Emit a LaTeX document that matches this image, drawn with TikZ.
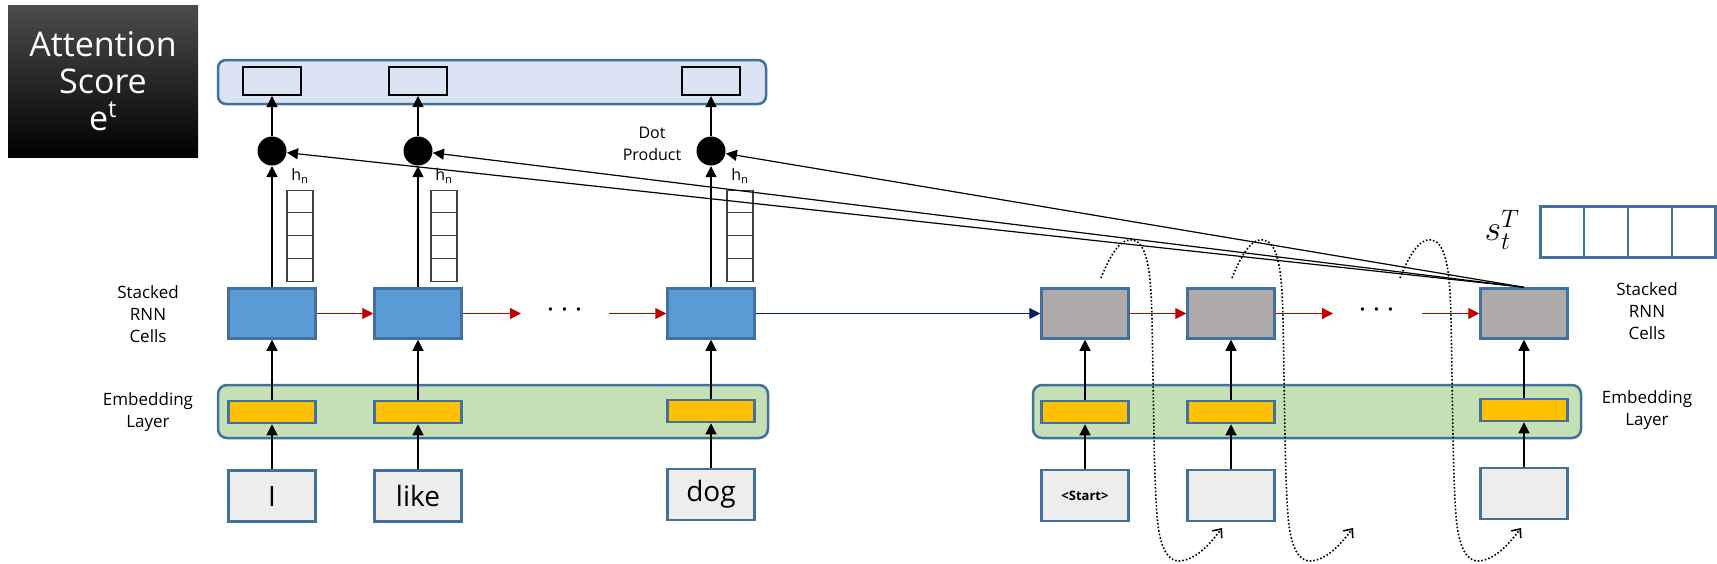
\RequirePackage{fix-cm}
\documentclass[tikz,border=0pt]{standalone}
\usepackage{fontspec}
\setmainfont{Open Sans}
\usetikzlibrary{arrows.meta,shapes}
\definecolor{cell_blue}{RGB}{91,155,213}
\definecolor{edge_blue}{RGB}{65,113,156}
\definecolor{cell_gray}{RGB}{174,170,170}
\definecolor{emb_yellow}{RGB}{255,192,0}
\definecolor{emb_green}{RGB}{197,224,180}
\definecolor{score_blue}{RGB}{218,227,243}
\definecolor{input_gray}{RGB}{237,237,237}
\definecolor{vec_gray}{RGB}{64,64,64}
\definecolor{edge_red}{RGB}{192,0,0}
\definecolor{edge_navy}{RGB}{0,32,96}

\begin{document}
\begin{tikzpicture}[x=1pt,y=-1pt,line width=1.2pt,>={Triangle[length=11pt,width=11pt]}]
    \tikzstyle{label}=[text=black,align=center,font=\fontsize{17}{22}\selectfont]
    \tikzstyle{title}=[rectangle,minimum width=190,minimum height=152,top color=black!70,middle color=black,bottom color=black,text=white,align=center,font=\fontsize{34}{37}\selectfont]
    \tikzstyle{box}=[rectangle,draw=edge_blue,line width=2.5pt,inner sep=0pt,minimum width=87]
    \tikzstyle{enc}=[style=box,fill=cell_blue,minimum height=50]
    \tikzstyle{dec}=[style=box,fill=cell_gray,minimum height=50]
    \tikzstyle{emb}=[style=box,fill=emb_yellow,minimum height=22]
    \tikzstyle{word}=[style=box,fill=input_gray,minimum height=51,font=\fontsize{28}{30}\selectfont]
    \tikzstyle{layer}=[rectangle,draw=edge_blue,line width=2.5pt,rounded corners=9pt,minimum height=53]
    \tikzstyle{score}=[rectangle,draw=black,line width=2pt,minimum width=58,minimum height=28,inner sep=0pt]
    \tikzstyle{product}=[circle,fill=black,minimum size=29,inner sep=0pt]
    \tikzstyle{hvec}=[rectangle,draw=vec_gray,line width=1.2pt,minimum width=26,minimum height=91,inner sep=0pt]
    \tikzstyle{up}=[->,black,line width=1.2pt]
    \tikzstyle{rec}=[->,edge_red,line width=1.2pt]
    \tikzstyle{feed}=[dotted,line width=1.6pt,-{Straight Barb[length=7pt,width=12pt]}]

    \useasboundingbox (0,0) rectangle (1717,563);

    \node[title] (T) at (103,81) {Attention\\Score\\e\textsuperscript{t}};

    % attention score bar
    \node[layer,fill=score_blue,minimum width=548,minimum height=44,rounded corners=8pt] (bar) at (492,82) {};
    \node[score] (a1) at (272,81) {};
    \node[score] (a2) at (418,81) {};
    \node[score] (a3) at (711,81) {};

    % embedding bars
    \node[layer,fill=emb_green,minimum width=550] (L1) at (493,411.5) {};
    \node[layer,fill=emb_green,minimum width=548] (L2) at (1307,411.5) {};

    % encoder
    \node[enc] (c1) at (272,313.5) {};
    \node[enc] (c2) at (418,313.5) {};
    \node[enc] (c3) at (711,313.5) {};
    \node[emb] (e1) at (272,412) {};
    \node[emb] (e2) at (418,412) {};
    \node[emb] (e3) at (711,411) {};
    \node[word] (w1) at (272,496) {I};
    \node[word] (w2) at (418,496) {like};
    \node[word] (w3) at (711,494.5) {dog};

    % decoder
    \node[dec] (d1) at (1085,313.5) {};
    \node[dec] (d2) at (1231,313.5) {};
    \node[dec] (d3) at (1524,313.5) {};
    \node[emb] (f1) at (1085,412) {};
    \node[emb] (f2) at (1231,412) {};
    \node[emb] (f3) at (1524,410) {};
    \node[word,font=\fontsize{13}{15}\selectfont\bfseries] (v1) at (1085,495.5) {<Start>};
    \node[word] (v2) at (1231,495.5) {};
    \node[word] (v3) at (1524,493.5) {};

    % dot products and hidden states
    \node[product] (p1) at (272,151) {};
    \node[product] (p2) at (418,151) {};
    \node[product] (p3) at (711,151) {};
    \foreach \x/\n in {300/1,444/2,740/3} {
        \node[hvec] (h\n) at (\x,236) {};
        \foreach \k in {1,2,3}
            \draw[vec_gray] ([yshift=-\k*22.75pt]h\n.north west) -- ([yshift=-\k*22.75pt]h\n.north east);
        \node[font=\fontsize{16}{18}\selectfont] at (\x,176) {h\textsubscript{n}};
    }
    \node[label,font=\fontsize{16}{22}\selectfont] (dp) at (652,144) {Dot\\Product};

    % query vector
    \node[font=\fontsize{36}{36}\selectfont] (sl) at (1502,230) {$s_t^T$};
    \node[box,minimum width=175,minimum height=51,draw=edge_blue] (s) at (1628,232) {};
    \foreach \x in {1584,1628,1672}
        \draw[edge_blue,line width=2.5pt] (\x,206.5) -- (\x,257.5);

    % side labels
    \node[label] at (148,314) {Stacked\\RNN\\Cells};
    \node[label] at (148,412) {Embedding\\Layer};
    \node[label] at (1647,311) {Stacked\\RNN\\Cells};
    \node[label] at (1647,410) {Embedding\\Layer};

    % recurrence
    \coordinate (r1) at (521,313.5);
    \coordinate (r2) at (609,313.5);
    \coordinate (r3) at (1333,313.5);
    \coordinate (r4) at (1422,313.5);
    \node[font=\fontsize{32}{32}\selectfont] at (565,310) {$\cdots$};
    \node[font=\fontsize{32}{32}\selectfont] at (1377,310) {$\cdots$};

    \path
     (w1) edge[up] (e1)  (e1) edge[up] (c1)  (c1) edge[up] (p1)  (p1) edge[up] (a1)
     (w2) edge[up] (e2)  (e2) edge[up] (c2)  (c2) edge[up] (p2)  (p2) edge[up] (a2)
     (w3) edge[up] (e3)  (e3) edge[up] (c3)  (c3) edge[up] (p3)  (p3) edge[up] (a3)
     (v1) edge[up] (f1)  (f1) edge[up] (d1)
     (v2) edge[up] (f2)  (f2) edge[up] (d2)
     (v3) edge[up] (f3)  (f3) edge[up] (d3)
     (c1) edge[rec] (c2)
     (c2) edge[rec] (r1)
     (r2) edge[rec] (c3)
     (d1) edge[rec] (d2)
     (d2) edge[rec] (r3)
     (r4) edge[rec] (d3)
     (c3) edge[->,edge_navy] (d1)
     (d3.north) edge[up] (p1)
     (d3.north) edge[up] (p2)
     (d3.north) edge[up] (p3);

    % outputs fed back as next inputs
    \foreach \x in {1101,1232,1400}
        \draw[feed] (\x,278) .. controls (\x+12,248) and (\x+22,238) .. (\x+32,240)
            .. controls (\x+46,243) and (\x+50,270) .. (\x+51,320)
            .. controls (\x+53,420) and (\x+53,505) .. (\x+58,532)
            .. controls (\x+62,554) and (\x+70,561) .. (\x+78,561)
            .. controls (\x+95,560) and (\x+108,545) .. (\x+121,528);
\end{tikzpicture}
\end{document}
